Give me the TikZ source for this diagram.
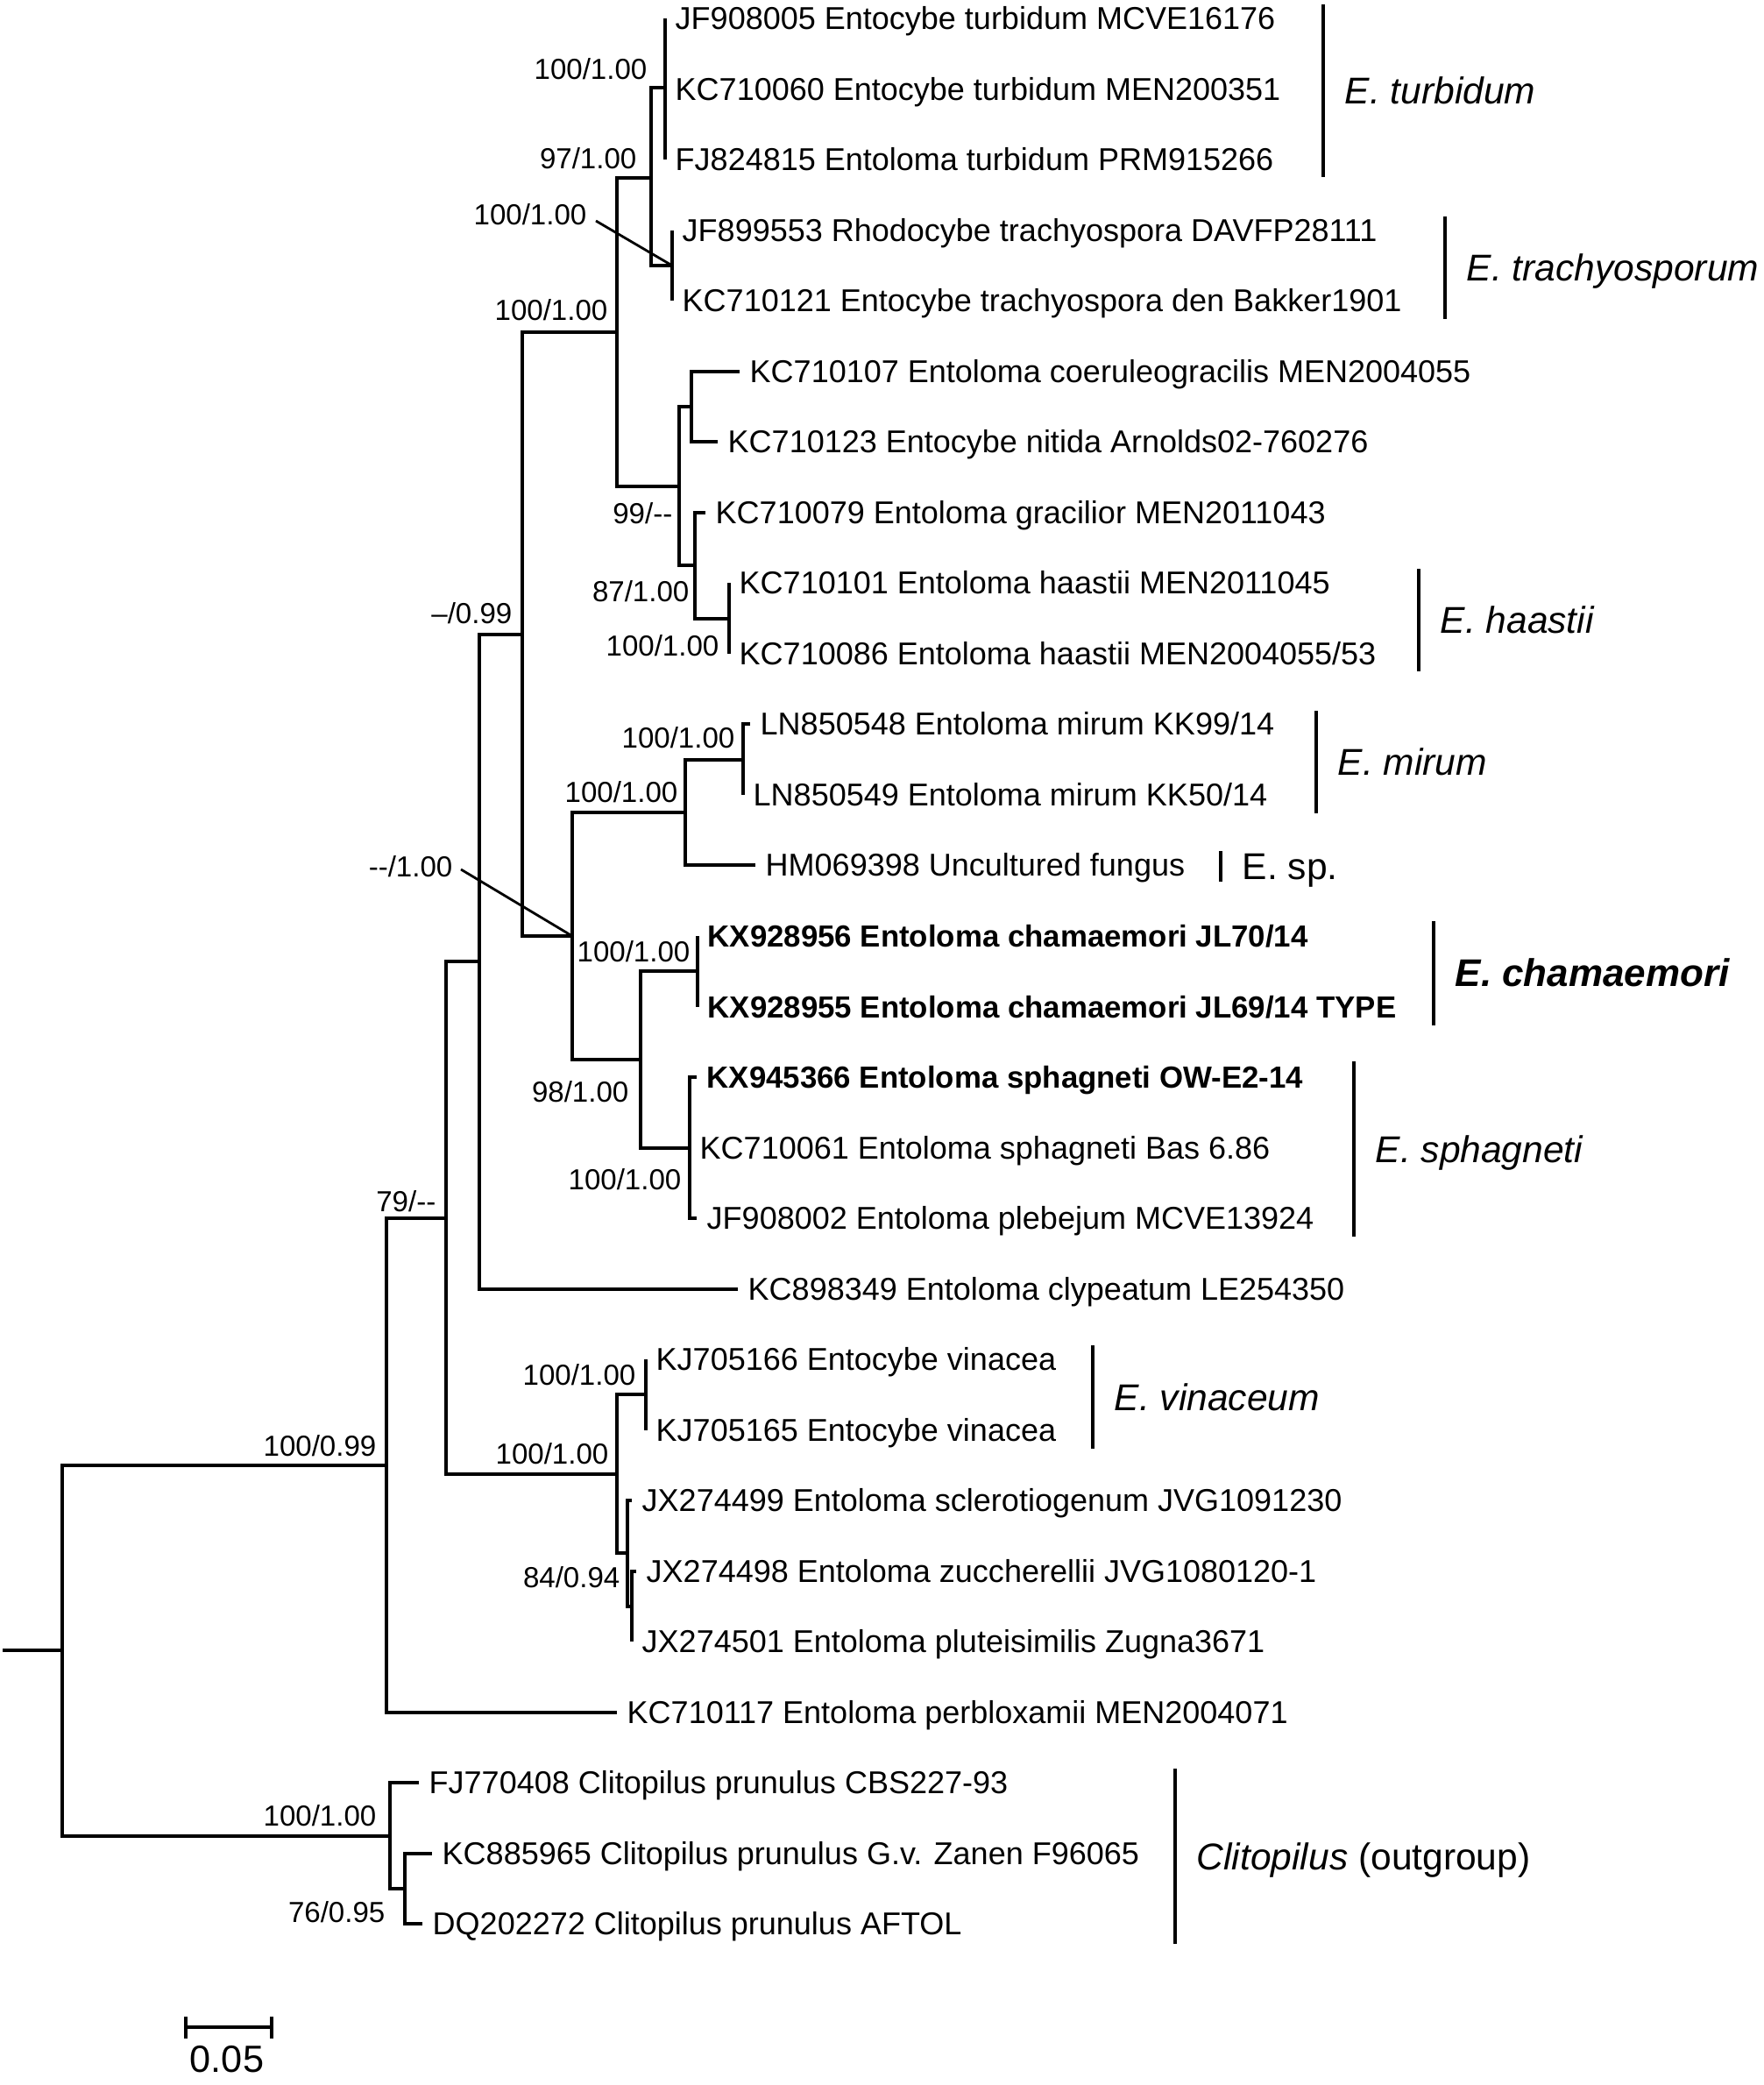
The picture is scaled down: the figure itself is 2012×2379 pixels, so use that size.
\documentclass[tikz,border=0pt]{standalone}
\usepackage{fontspec}
\setmainfont{Liberation Sans}
\usetikzlibrary{calc}
\begin{document}
\begin{tikzpicture}[x=0.01cm, y=-0.01cm,
  br/.style={line width=1.05pt, line join=miter},
  cbar/.style={line width=1.0pt},
  lead/.style={line width=0.8pt},
  leaf/.style={anchor=west, inner xsep=0.11cm, inner ysep=0pt, text height=0.258cm, text depth=0pt, font=\fontsize{10.24pt}{12pt}\selectfont},
  bleaf/.style={leaf, font=\fontsize{9.9pt}{12pt}\selectfont\bfseries},
  sup/.style={anchor=base east, inner sep=0pt, font=\fontsize{9.4pt}{11pt}\selectfont},
  clade/.style={anchor=west, inner xsep=0.24cm, inner ysep=0pt, text height=0.30cm, text depth=0pt, font=\fontsize{12.1pt}{14pt}\selectfont}]
\useasboundingbox (0,0) rectangle (2012,2379);

% internal nodes
\coordinate (root0) at (3,1883);
\coordinate (root) at (71,1883);
\coordinate (nA) at (441,1672);
\coordinate (nA1) at (509,1390);
\coordinate (nA1a) at (547,1097);
\coordinate (nM099) at (596,724);
\coordinate (nT) at (704,379);
\coordinate (n97) at (743,203);
\coordinate (nTurb) at (759,100);
\coordinate (nTrach) at (767,303);
\coordinate (n99) at (775,555);
\coordinate (nCoer) at (789,464);
\coordinate (n87) at (793,645);
\coordinate (nHaas) at (832,706);
\coordinate (nM100) at (653,1068);
\coordinate (nMHM) at (782,927);
\coordinate (nMir) at (848,867);
\coordinate (n98) at (731,1209);
\coordinate (nCham) at (796,1108);
\coordinate (nSph) at (787,1310);
\coordinate (nV) at (704,1682);
\coordinate (nVin) at (737,1591);
\coordinate (nJX) at (716,1772);
\coordinate (nJXi) at (721,1833);
\coordinate (nClit) at (445,2095);
\coordinate (nClitI) at (462,2155);

% leaves
\node[leaf] (l1) at (759,21) {JF908005 Entocybe turbidum MCVE16176};
\node[leaf] (l2) at (759,102) {KC710060 Entocybe turbidum MEN200351};
\node[leaf] (l3) at (759,182) {FJ824815 Entoloma turbidum PRM915266};
\node[leaf] (l4) at (767,263) {JF899553 Rhodocybe trachyospora DAVFP28111};
\node[leaf] (l5) at (767,343) {KC710121 Entocybe trachyospora den Bakker1901};
\node[leaf] (l6) at (844,424) {KC710107 Entoloma coeruleogracilis MEN2004055};
\node[leaf] (l7) at (819,504) {KC710123 Entocybe nitida Arnolds02-760276};
\node[leaf] (l8) at (805,585) {KC710079 Entoloma gracilior MEN2011043};
\node[leaf] (l9) at (832,665) {KC710101 Entoloma haastii MEN2011045};
\node[leaf] (l10) at (832,746) {KC710086 Entoloma haastii MEN2004055/53};
\node[leaf] (l11) at (856,826) {LN850548 Entoloma mirum KK99/14};
\node[leaf] (l12) at (848,907) {LN850549 Entoloma mirum KK50/14};
\node[leaf] (l13) at (862,987) {HM069398 Uncultured fungus};
\node[bleaf] (l14) at (796,1068) {KX928956 Entoloma chamaemori JL70/14};
\node[bleaf] (l15) at (796,1149) {KX928955 Entoloma chamaemori JL69/14 TYPE};
\node[bleaf] (l16) at (795,1229) {KX945366 Entoloma sphagneti OW-E2-14};
\node[leaf] (l17) at (787,1310) {KC710061 Entoloma sphagneti Bas 6.86};
\node[leaf] (l18) at (795,1390) {JF908002 Entoloma plebejum MCVE13924};
\node[leaf] (l19) at (842,1471) {KC898349 Entoloma clypeatum LE254350};
\node[leaf] (l20) at (737,1551) {KJ705166 Entocybe vinacea};
\node[leaf] (l21) at (737,1632) {KJ705165 Entocybe vinacea};
\node[leaf] (l22) at (721,1712) {JX274499 Entoloma sclerotiogenum JVG1091230};
\node[leaf] (l23) at (726,1793) {JX274498 Entoloma zuccherellii JVG1080120-1};
\node[leaf] (l24) at (721,1873) {JX274501 Entoloma pluteisimilis Zugna3671};
\node[leaf] (l25) at (704,1954) {KC710117 Entoloma perbloxamii MEN2004071};
\node[leaf] (l26) at (478,2034) {FJ770408 Clitopilus prunulus CBS227-93};
\node[leaf] (l27) at (493,2115) {KC885965 Clitopilus prunulus G.v. Zanen F96065};
\node[leaf] (l28) at (482,2195) {DQ202272 Clitopilus prunulus AFTOL};

% branches
\draw[br] (root0) -- (root);
\draw[br] (root) |- (nA);
\draw[br] (root) |- (nClit);
\draw[br] (nA) |- (nA1);
\draw[br] (nA) |- (l25.west);
\draw[br] (nA1) |- (nA1a);
\draw[br] (nA1) |- (nV);
\draw[br] (nA1a) |- (nM099);
\draw[br] (nA1a) |- (l19.west);
\draw[br] (nM099) |- (nT);
\draw[br] (nM099) |- (nM100);
\draw[br] (nT) |- (n97);
\draw[br] (nT) |- (n99);
\draw[br] (n97) |- (nTurb);
\draw[br] (n97) |- (nTrach);
\draw[br] (nTurb) |- (l1.west);
\draw[br] (nTurb) |- (l2.west);
\draw[br] (nTurb) |- (l3.west);
\draw[br] (nTrach) |- (l4.west);
\draw[br] (nTrach) |- (l5.west);
\draw[br] (n99) |- (nCoer);
\draw[br] (n99) |- (n87);
\draw[br] (nCoer) |- (l6.west);
\draw[br] (nCoer) |- (l7.west);
\draw[br] (n87) |- (l8.west);
\draw[br] (n87) |- (nHaas);
\draw[br] (nHaas) |- (l9.west);
\draw[br] (nHaas) |- (l10.west);
\draw[br] (nM100) |- (nMHM);
\draw[br] (nM100) |- (n98);
\draw[br] (nMHM) |- (nMir);
\draw[br] (nMHM) |- (l13.west);
\draw[br] (nMir) |- (l11.west);
\draw[br] (nMir) |- (l12.west);
\draw[br] (n98) |- (nCham);
\draw[br] (n98) |- (nSph);
\draw[br] (nCham) |- (l14.west);
\draw[br] (nCham) |- (l15.west);
\draw[br] (nSph) |- (l16.west);
\draw[br] (nSph) |- (l17.west);
\draw[br] (nSph) |- (l18.west);
\draw[br] (nV) |- (nVin);
\draw[br] (nV) |- (nJX);
\draw[br] (nVin) |- (l20.west);
\draw[br] (nVin) |- (l21.west);
\draw[br] (nJX) |- (l22.west);
\draw[br] (nJX) |- (nJXi);
\draw[br] (nJXi) |- (l23.west);
\draw[br] (nJXi) |- (l24.west);
\draw[br] (nClit) |- (l26.west);
\draw[br] (nClit) |- (nClitI);
\draw[br] (nClitI) |- (l27.west);
\draw[br] (nClitI) |- (l28.west);

% support values
\node[sup] (s1) at (739,91) {100/1.00};
\node[sup] (s2) at (727,193) {97/1.00};
\node[sup] (s3) at (670,257) {100/1.00};
\node[sup] (s4) at (694,366) {100/1.00};
\node[sup] (s5) at (768,597) {99/-{}-};
\node[sup] (s6) at (787,686) {87/1.00};
\node[sup] (s7) at (821,748) {100/1.00};
\node[sup] (s8) at (585,711) {--/0.99};
\node[sup] (s9) at (517,1000) {-{}-/1.00};
\node[sup] (s10) at (839,853) {100/1.00};
\node[sup] (s11) at (774,915) {100/1.00};
\node[sup] (s12) at (788,1097) {100/1.00};
\node[sup] (s13) at (718,1257) {98/1.00};
\node[sup] (s14) at (778,1357) {100/1.00};
\node[sup] (s15) at (498,1382) {79/-{}-};
\node[sup] (s16) at (726,1580) {100/1.00};
\node[sup] (s17) at (695,1670) {100/1.00};
\node[sup] (s18) at (708,1811) {84/0.94};
\node[sup] (s19) at (430,1661) {100/0.99};
\node[sup] (s20) at (430,2083) {100/1.00};
\node[sup] (s21) at (440,2193) {76/0.95};
\draw[lead] ([shift={(10,-5)}]s3.base east) -- (nTrach);
\draw[lead] ([shift={(9,-8)}]s9.base east) -- (nM100);

% clade bars and names
\coordinate (cb1a) at (1510,5);    \coordinate (cb1b) at (1510,202);
\coordinate (cb2a) at (1649,247);  \coordinate (cb2b) at (1649,364);
\coordinate (cb3a) at (1619,649);  \coordinate (cb3b) at (1619,766);
\coordinate (cb4a) at (1502,811);  \coordinate (cb4b) at (1502,928);
\coordinate (cb5a) at (1393,971);  \coordinate (cb5b) at (1393,1006);
\coordinate (cb6a) at (1636,1051); \coordinate (cb6b) at (1636,1170);
\coordinate (cb7a) at (1545,1211); \coordinate (cb7b) at (1545,1411);
\coordinate (cb8a) at (1247,1535); \coordinate (cb8b) at (1247,1653);
\coordinate (cb9a) at (1341,2018); \coordinate (cb9b) at (1341,2218);
\foreach \i in {1,...,9} {\draw[cbar] (cb\i a) -- (cb\i b);}
\node[clade] (c1) at (1510,103) {\itshape E. turbidum};
\node[clade] (c2) at (1649,305) {\itshape E. trachyosporum};
\node[clade] (c3) at (1619,707) {\itshape E. haastii};
\node[clade] (c4) at (1502,869) {\itshape E. mirum};
\node[clade] (c5) at (1393,988) {E. sp.};
\node[clade, font=\fontsize{12.5pt}{14pt}\selectfont] (c6) at (1636,1110) {\bfseries\itshape E. chamaemori};
\node[clade] (c7) at (1545,1311) {\itshape E. sphagneti};
\node[clade] (c8) at (1247,1594) {\itshape E. vinaceum};
\node[clade] (c9) at (1341,2118) {\textit{Clitopilus} (outgroup)};

% scale bar
\coordinate (sb1) at (212,2313); \coordinate (sb2) at (310,2313);
\coordinate (sb1t) at (212,2301); \coordinate (sb1b) at (212,2326);
\coordinate (sb2t) at (310,2301); \coordinate (sb2b) at (310,2326);
\draw[br] (sb1) -- (sb2);
\draw[br] (sb1t) -- (sb1b);
\draw[br] (sb2t) -- (sb2b);
\node[anchor=north, inner sep=0pt, text height=0.30cm, text depth=0pt, font=\fontsize{12.3pt}{14pt}\selectfont] (sbl) at (259,2334) {0.05};
\end{tikzpicture}
\end{document}
